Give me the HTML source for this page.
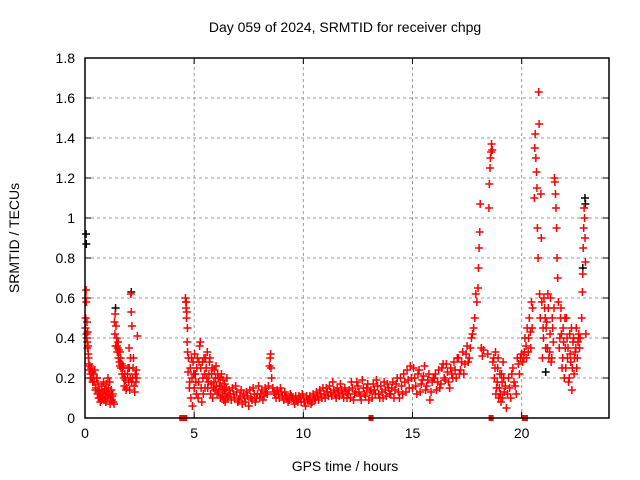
<!DOCTYPE html>
<html><head><meta charset="utf-8"><style>
body{margin:0;background:#fff;}
svg{display:block;font-family:"Liberation Sans",sans-serif;}
</style></head><body>
<svg id="chart" width="640" height="480">
<text x="345" y="32" font-size="14" text-anchor="middle">Day 059 of 2024, SRMTID for receiver chpg</text>
<text x="345" y="471" font-size="14" text-anchor="middle">GPS time / hours</text>
<text transform="translate(19,238) rotate(-90)" font-size="14" text-anchor="middle">SRMTID / TECUs</text>
<g id="grid"></g>
<g id="ticks"></g>
<g id="black"></g>
<g id="red"></g>
<g id="gaps"></g>
<rect x="85" y="58" width="524" height="360" fill="none" stroke="#000" stroke-width="1.5"/>
</svg>
<script>
const xTicks=[0,5,10,15,20];
const yTicks=[0,0.2,0.4,0.6,0.8,1,1.2,1.4,1.6,1.8];
const yTickLabels=["0","0.2","0.4","0.6","0.8","1","1.2","1.4","1.6","1.8"];
const hours=[
0.02,0.04,0.05,0.06,0.07,0.08,0.09,0.1,0.12,0.14,0.16,0.18,0.2,0.22,0.25,0.28,0.3,0.33,
0.38,0.42,0.45,0.5,0.53,0.57,0.6,0.63,0.67,0.7,0.73,0.77,0.8,0.83,0.87,0.9,0.93,0.97,1.0,1.03,1.07,1.1,1.13,1.17,1.2,1.23,1.27,1.3,
1.35,1.37,1.4,1.42,1.45,1.48,1.5,1.53,1.55,1.58,1.6,1.63,1.65,1.7,1.73,1.77,1.8,1.85,1.9,1.95,2.0,2.03,2.05,2.08,2.1,2.12,2.15,2.18,2.2,2.25,2.3,2.33,2.37,2.4,
4.6,4.62,4.63,4.65,4.66,4.68,4.7,4.72,4.74,
4.78,4.82,4.85,4.9,4.95,5.0,5.05,5.1,5.15,5.2,5.25,5.3,5.35,5.4,5.45,5.5,5.55,5.6,5.65,5.7,5.75,5.8,5.85,5.9,5.95,6.0,6.05,6.1,6.15,6.2,6.25,6.3,6.35,6.4,6.45,6.5,6.55,
6.6,6.7,6.8,6.9,7.0,7.1,7.2,7.3,7.4,7.5,7.6,7.7,7.8,7.9,8.0,8.1,8.2,8.3,8.4,8.45,8.5,8.55,8.6,8.7,8.8,8.9,9.0,9.1,9.2,9.3,9.4,
9.5,9.6,9.7,9.8,9.9,10.0,10.1,10.2,10.3,10.4,10.5,10.6,10.7,10.8,10.9,11.0,11.1,11.2,11.3,11.4,11.5,11.6,11.7,11.8,11.9,
12.0,12.1,12.2,12.3,12.4,12.5,12.6,12.7,12.8,12.9,13.0,13.1,13.2,13.3,13.4,13.5,13.6,13.7,13.8,13.9,
14.0,14.1,14.2,14.3,14.4,14.5,14.6,14.7,14.8,14.9,15.0,15.1,15.2,15.3,15.4,15.5,15.6,15.7,15.8,15.9,
16.0,16.1,16.2,16.3,16.4,16.5,16.6,16.7,16.8,16.9,17.0,17.1,17.2,17.3,17.4,17.5,17.6,17.7,
17.8,17.85,17.9,17.95,18.0,18.02,18.05,18.08,18.1,18.15,18.2,18.25,
18.45,18.5,18.52,18.55,18.57,18.6,18.62,18.65,18.68,
18.75,18.8,18.85,18.9,18.95,19.0,19.05,19.1,19.15,19.2,19.3,19.4,19.5,19.6,19.7,19.8,19.9,20.0,
20.1,20.15,20.2,20.25,20.3,20.35,20.4,20.45,20.5,
20.58,20.6,20.62,20.65,20.68,20.7,20.72,20.75,20.78,20.8,20.82,20.85,20.88,20.9,20.92,20.95,20.98,21.0,
21.05,21.1,21.15,21.2,21.25,21.3,21.35,21.4,21.45,
21.5,21.52,21.55,21.57,21.6,21.62,21.65,21.68,
21.75,21.8,21.85,21.9,21.95,22.0,22.05,22.1,22.15,22.2,22.25,22.3,22.35,22.4,22.45,22.5,22.55,22.6,22.65,
22.75,22.78,22.8,22.82,22.84,22.86,22.88,22.9,22.92,22.94,
0.03,0.11,0.15,0.24,0.35,0.4,0.48,0.55,0.62,0.68,0.75,0.85,0.95,1.05,1.15,1.25,1.33,
1.38,1.46,1.52,1.6,1.68,1.75,1.82,1.88,1.97,2.02,2.07,2.14,2.22,2.28,2.35,
4.64,4.69,4.8,4.88,4.92,4.98,5.02,5.08,5.12,5.18,5.22,5.28,5.32,5.38,5.42,5.48,5.52,5.58,5.62,5.68,5.72,5.78,5.82,5.88,5.92,5.98,6.02,6.08,6.12,6.18,6.22,6.28,6.32,6.38,6.42,6.48,6.52,
6.65,6.75,6.85,6.95,7.05,7.15,7.25,7.35,7.45,7.55,7.65,7.75,7.85,7.95,8.05,8.15,8.25,8.35,8.48,8.52,8.65,8.75,8.85,8.95,9.05,9.15,9.25,9.35,9.45,
9.55,9.65,9.75,9.85,9.95,10.05,10.15,10.25,10.35,10.45,10.55,10.65,10.75,10.85,10.95,11.05,11.15,11.25,11.35,11.45,11.55,11.65,11.75,11.85,11.95,
12.05,12.15,12.25,12.35,12.45,12.55,12.65,12.75,12.85,12.95,13.05,13.15,13.25,13.35,13.45,13.55,13.65,13.75,13.85,13.95,
14.05,14.15,14.25,14.35,14.45,14.55,14.65,14.75,14.85,14.95,15.05,15.15,15.25,15.35,15.45,15.55,15.65,15.75,15.85,15.95,
16.05,16.15,16.25,16.35,16.45,16.55,16.65,16.75,16.85,16.95,17.05,17.15,17.25,17.35,17.45,17.55,17.65,17.75,
18.72,18.78,18.82,18.88,18.92,18.98,19.02,19.08,19.12,19.18,19.25,19.35,19.45,19.55,19.65,19.75,19.85,19.95,20.05,20.12,20.22,20.32,20.42,20.48,
21.02,21.08,21.12,21.18,21.22,21.28,21.32,21.38,21.42,21.48,21.72,21.78,21.82,21.88,21.92,21.98,22.02,22.08,22.12,22.18,22.22,22.28,22.32,22.38,22.42,22.48,22.52,22.58,22.62,22.68];
const srmtid=[
0.45,0.6,0.64,0.58,0.42,0.4,0.48,0.38,0.43,0.36,0.3,0.27,0.24,0.26,0.22,0.25,0.2,0.23,
0.2,0.18,0.24,0.15,0.2,0.12,0.17,0.1,0.14,0.08,0.12,0.16,0.1,0.13,0.09,0.14,0.11,0.17,0.13,0.1,0.15,0.12,0.18,0.1,0.14,0.09,0.12,0.08,
0.48,0.42,0.36,0.46,0.4,0.33,0.35,0.3,0.34,0.28,0.26,0.3,0.25,0.22,0.25,0.2,0.16,0.19,0.15,0.22,0.18,0.25,0.14,0.3,0.62,0.53,0.46,0.2,0.25,0.16,0.22,0.18,0.2,0.41,
0.6,0.58,0.55,0.5,0.53,0.38,0.33,0.23,0.3,
0.15,0.25,0.1,0.2,0.28,0.15,0.22,0.12,0.3,0.18,0.36,0.25,0.08,0.2,0.3,0.15,0.25,0.33,0.18,0.28,0.12,0.22,0.1,0.18,0.14,0.26,0.12,0.2,0.16,0.1,0.22,0.14,0.09,0.17,0.12,0.2,0.11,
0.14,0.09,0.12,0.16,0.08,0.11,0.07,0.1,0.13,0.06,0.1,0.15,0.08,0.12,0.1,0.14,0.11,0.13,0.16,0.26,0.32,0.2,0.15,0.12,0.14,0.1,0.13,0.09,0.11,0.08,0.12,
0.1,0.07,0.09,0.11,0.08,0.1,0.06,0.09,0.11,0.08,0.1,0.13,0.09,0.12,0.15,0.1,0.13,0.16,0.11,0.14,0.1,0.13,0.17,0.12,0.15,
0.1,0.14,0.18,0.09,0.13,0.16,0.11,0.19,0.12,0.15,0.09,0.14,0.17,0.12,0.16,0.1,0.13,0.18,0.11,0.15,
0.12,0.18,0.14,0.2,0.1,0.16,0.22,0.13,0.19,0.26,0.15,0.2,0.12,0.24,0.17,0.21,0.14,0.19,0.09,0.18,
0.2,0.14,0.24,0.17,0.27,0.19,0.23,0.15,0.22,0.28,0.2,0.3,0.24,0.33,0.27,0.36,0.3,0.4,
0.45,0.5,0.62,0.58,0.65,0.75,0.85,0.93,1.07,0.35,0.31,0.34,
0.32,1.05,1.17,1.25,1.3,1.33,1.37,1.34,0.28,
0.2,0.33,0.15,0.25,0.1,0.22,0.08,0.18,0.28,0.13,0.05,0.2,0.1,0.25,0.16,0.3,0.22,0.32,
0.3,0.4,0.36,0.45,0.33,0.5,0.43,0.58,0.55,
1.1,1.35,1.42,1.3,1.23,1.15,0.95,0.8,1.63,1.47,0.62,0.5,1.12,0.9,0.58,0.3,0.45,0.4,
0.55,0.35,0.48,0.62,0.3,0.42,0.28,0.5,0.38,
1.2,1.18,1.12,1.05,0.95,0.8,0.7,0.58,
0.4,0.55,0.25,0.45,0.2,0.35,0.5,0.3,0.18,0.42,0.28,0.14,0.38,0.22,0.33,0.45,0.3,0.4,0.35,
0.5,0.63,0.72,0.85,0.95,1.05,1.0,0.9,0.78,0.42,
0.5,0.35,0.32,0.2,0.18,0.22,0.14,0.2,0.13,0.1,0.09,0.18,0.08,0.2,0.07,0.11,0.07,
0.52,0.36,0.38,0.33,0.27,0.26,0.22,0.14,0.25,0.35,0.2,0.18,0.3,0.13,0.24,
0.58,0.45,0.18,0.3,0.06,0.22,0.32,0.18,0.25,0.1,0.28,0.38,0.15,0.28,0.12,0.22,0.3,0.2,0.15,0.22,0.3,0.17,0.25,0.15,0.24,0.2,0.16,0.22,0.13,0.2,0.16,0.11,0.19,0.14,0.08,0.15,0.1,
0.12,0.15,0.1,0.13,0.09,0.14,0.12,0.08,0.11,0.14,0.09,0.12,0.1,0.16,0.12,0.09,0.15,0.12,0.3,0.25,0.13,0.1,0.12,0.15,0.11,0.13,0.1,0.09,0.11,
0.09,0.11,0.08,0.1,0.12,0.08,0.11,0.09,0.07,0.12,0.09,0.11,0.14,0.1,0.12,0.15,0.11,0.13,0.18,0.12,0.15,0.11,0.14,0.1,0.13,
0.12,0.1,0.15,0.12,0.18,0.13,0.09,0.15,0.11,0.17,0.13,0.1,0.14,0.19,0.12,0.16,0.1,0.14,0.17,0.12,
0.15,0.1,0.17,0.13,0.2,0.12,0.18,0.24,0.15,0.2,0.25,0.16,0.22,0.13,0.19,0.26,0.16,0.22,0.13,0.2,
0.22,0.18,0.15,0.25,0.2,0.27,0.18,0.25,0.2,0.24,0.3,0.22,0.28,0.22,0.32,0.28,0.35,0.42,
0.3,0.25,0.12,0.18,0.3,0.15,0.12,0.22,0.1,0.2,0.16,0.12,0.15,0.22,0.18,0.12,0.27,0.3,0.28,0.33,0.3,0.4,0.35,0.45,
0.6,0.5,0.45,0.35,0.55,0.33,0.6,0.3,0.45,0.55,0.35,0.5,0.42,0.3,0.38,0.5,0.25,0.4,0.35,0.2,0.32,0.45,0.25,0.4,0.3,0.35,0.25,0.38,0.42,0.4];
const blackHours=[0.05,0.06,1.4,2.12,21.1,22.8,22.9,22.92];
const blackValues=[0.92,0.87,0.55,0.63,0.23,0.75,1.1,1.07];
const gapHours=[4.5,13.1,18.6,20.15];
const gapWidths=[8,5,5,6];

const NS="http://www.w3.org/2000/svg";
const X0=85,X1=609,Y0=418,Y1=58,XMAX=24,YMAX=1.8;
function xs(h){return X0+(X1-X0)*h/XMAX;}
function ys(v){return Y0-(Y0-Y1)*v/YMAX;}
function mk(tag,attrs,parent){const e=document.createElementNS(NS,tag);for(const k in attrs)e.setAttribute(k,attrs[k]);parent.appendChild(e);return e;}
const grid=document.getElementById('grid'),ticks=document.getElementById('ticks');
xTicks.forEach(t=>{
  const x=xs(t);
  if(t>0){const g=mk('line',{x1:x,x2:x,y1:Y0,y2:Y1,stroke:'#999','stroke-dasharray':'3,3'},grid);
  
  }
  const l=mk('text',{x:x,y:Y0+20,'font-size':14,'text-anchor':'middle'},ticks);l.textContent=t;
  
  
  mk('line',{x1:x,x2:x,y1:Y0,y2:Y0-6,stroke:'#000'},ticks);
  mk('line',{x1:x,x2:x,y1:Y1,y2:Y1+6,stroke:'#000'},ticks);
});
yTicks.forEach((t,i)=>{
  const y=ys(t);
  if(t>0&&t<YMAX){const g=mk('line',{x1:X0,x2:X1,y1:y,y2:y,stroke:'#999','stroke-dasharray':'3,3'},grid);
  
  }
  const l=mk('text',{x:X0-10,y:y+5,'font-size':14,'text-anchor':'end'},ticks);l.textContent=yTickLabels[i];
  
  
  mk('line',{x1:X0,x2:X0+6,y1:y,y2:y,stroke:'#000'},ticks);
  mk('line',{x1:X1,x2:X1-6,y1:y,y2:y,stroke:'#000'},ticks);
});
function plus(g,h,v,color){
  const x=xs(h),y=ys(v);
  const p=mk('path',{d:`M${x-4} ${y}H${x+4}M${x} ${y-4}V${y+4}`,stroke:color,'stroke-width':1.5,fill:'none'},g);
  
  
}
const bg=document.getElementById('black'),rg=document.getElementById('red');
blackHours.forEach((h,i)=>plus(bg,h,blackValues[i],'#000'));
hours.forEach((h,i)=>plus(rg,h,srmtid[i],'#f00'));
const gg=document.getElementById('gaps');
gapHours.forEach((h,i)=>{
  const w=gapWidths[i];
  const r=mk('rect',{x:xs(h)-w/2,y:Y0-3,width:w,height:6,fill:'#f00'},gg);
  
  
});
</script>
</body></html>
